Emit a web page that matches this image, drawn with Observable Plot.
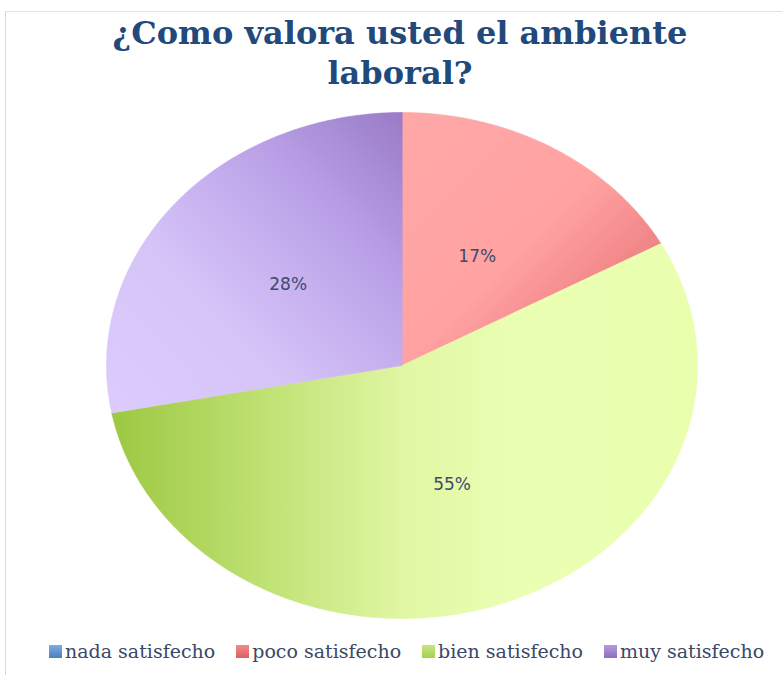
<!DOCTYPE html>
<html>
<head>
<meta charset="utf-8">
<script src="https://cdn.jsdelivr.net/npm/d3@7"></script>
<script src="https://cdn.jsdelivr.net/npm/@observablehq/plot@0.6"></script>
<style>
  html, body { margin: 0; padding: 0; background: #fff; overflow: hidden; }
  #wrap { position: relative; width: 782px; height: 675px; background: #fff; }
  #frame { position: absolute; left: 5px; top: 11px; width: 800px; height: 700px;
           border-top: 1.5px solid #dfe3e8; border-left: 1.5px solid #d6dadf; }
  #title { position: absolute; left: 0; top: 13px; width: 782px; padding-left: 18px; box-sizing: border-box;
           text-align: center; font-family: "DejaVu Serif", serif; font-weight: bold; font-size: 32px;
           line-height: 40px; color: #21497c; }
  #chart { position: absolute; left: 0; top: 105px; }
  #legend { position: absolute; left: 49px; top: 640px; display: flex; gap: 21px; align-items: center;
            font-family: "DejaVu Serif", serif; font-size: 19px; color: #3a4868; white-space: nowrap; }
  .item { display: flex; align-items: center; }
  .sw { width: 13px; height: 13px; margin-right: 3px; }
</style>
</head>
<body>
<div id="wrap">
  <div id="frame"></div>
  <div id="title">¿Como valora usted el ambiente<br>laboral?</div>
  <div id="chart"></div>
  <div id="legend"></div>
</div>
<script>
const categories = ["nada satisfecho", "poco satisfecho", "bien satisfecho", "muy satisfecho"];
const values = [0, 17, 55, 28];
const labels = ["0%", "17%", "55%", "28%"];

// gradient fills (light / dark tones of each slice)
const gradients = [
  {id: "g0", x1: 0, y1: 0, x2: 0, y2: 1, stops: [[0, "#7eaae2"], [1, "#4a7ebb"]]},
  {id: "g1", x1: 0, y1: 0, x2: 1, y2: 1, stops: [[0, "#ffa8a8"], [0.5, "#ffa2a2"], [1, "#e2666a"]]},
  {id: "g2", x1: 0, y1: 0, x2: 1, y2: 0, stops: [[0, "#9cc842"], [0.25, "#bee071"], [0.5, "#e0f7a4"], [0.7, "#ebffb4"], [1, "#e9ffae"]]},
  {id: "g3", x1: 1, y1: 0, x2: 0, y2: 1, stops: [[0, "#997ac6"], [0.3, "#bba2e8"], [0.65, "#d6c4f8"], [1, "#dccbfc"]]}
];
const swatchCss = [
  "linear-gradient(#80abe3, #4b7fbd)",
  "linear-gradient(#f08c8c, #dd5e5e)",
  "linear-gradient(#c6e584, #a5d04e)",
  "linear-gradient(#b69ae0, #8c6cc0)"
];

const data = categories.map((c, i) => ({cat: c, value: values[i], label: labels[i]}));
const arcs = d3.pie().sort(null).value(d => d.value)(data);

// polygon vertices of each sector in unit-circle data space (y up, angle clockwise from top)
const points = [];
for (const a of arcs) {
  if (a.endAngle - a.startAngle <= 0) continue;
  const n = Math.max(2, Math.ceil((a.endAngle - a.startAngle) / 0.01));
  points.push({cat: a.data.cat, x: 0, y: 0});
  for (let k = 0; k <= n; k++) {
    const t = a.startAngle + (a.endAngle - a.startAngle) * k / n;
    points.push({cat: a.data.cat, x: Math.sin(t), y: Math.cos(t)});
  }
}
const labelPts = arcs.filter(a => a.data.value > 0).map(a => {
  const m = (a.startAngle + a.endAngle) / 2;
  return {x: 0.5 * Math.sin(m), y: 0.5 * Math.cos(m), text: a.data.label};
});

const plot = Plot.plot({
  width: 782,
  height: 525,
  marginLeft: 106,
  marginRight: 85,
  marginTop: 7,
  marginBottom: 12,
  x: {domain: [-1, 1], axis: null},
  y: {domain: [-1, 1], axis: null},
  color: {domain: categories, range: gradients.map(g => `url(#${g.id})`)},
  style: {background: "transparent", overflow: "visible"},
  marks: [
    Plot.line(points, {x: "x", y: "y", z: "cat", fill: "cat", stroke: "cat", strokeWidth: 0.6, curve: "linear-closed"}),
    Plot.text(labelPts, {x: "x", y: "y", text: "text", fill: "#3f4a6c", fontSize: 17, fontFamily: "DejaVu Sans, sans-serif"})
  ]
});

const defs = d3.select(plot).insert("defs", ":first-child");
for (const g of gradients) {
  const lg = defs.append("linearGradient").attr("id", g.id)
    .attr("x1", g.x1).attr("y1", g.y1).attr("x2", g.x2).attr("y2", g.y2);
  for (const [o, c] of g.stops) lg.append("stop").attr("offset", o).attr("stop-color", c);
}
document.getElementById("chart").appendChild(plot);

const legend = d3.select("#legend");
categories.forEach((c, i) => {
  const it = legend.append("div").attr("class", "item");
  it.append("div").attr("class", "sw").style("background", swatchCss[i]);
  it.append("span").text(c);
});
</script>
</body>
</html>
